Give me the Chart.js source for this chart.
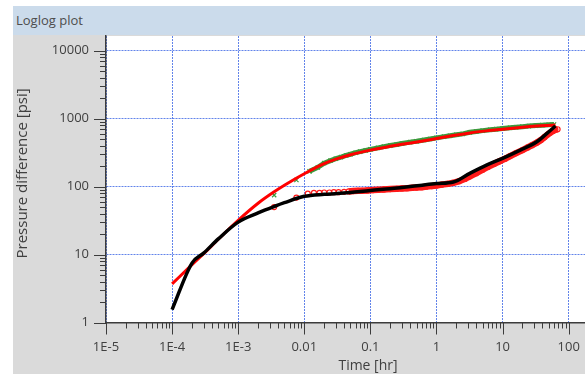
<!DOCTYPE html>
<html>
<head>
<meta charset="utf-8">
<script src="https://cdn.jsdelivr.net/npm/chart.js@4.4.0/dist/chart.umd.min.js"></script>
<style>
html, body { margin: 0; padding: 0; background: #fff; overflow: hidden; width: 585px; height: 374px; }
#bar { position: absolute; left: 13px; top: 6px; width: 617px; height: 29px; background: #cbdbeb; color: #4d4d4d;
       font: 13px 'Open Sans', sans-serif; line-height: 28px; padding-left: 3px; box-sizing: border-box; white-space: nowrap; }
#panel { position: absolute; left: 13px; top: 35px; width: 617px; height: 339px; background: #dadada; }
</style>
</head>
<body>
<div id="bar">Loglog plot</div>
<div id="panel"><canvas id="plot" width="617" height="339"></canvas></div>
<script>
// model curves
const modelTime = [1e-4, 2e-4, 3e-4, 5e-4, 1e-3, 2e-3, 3.5e-3, 5e-3, 0.01, 0.02, 0.0316, 0.05, 0.1, 0.2, 0.3, 0.56, 1, 1.8, 3.2, 5.7, 10, 18.5, 33, 47, 63];
const modelPressure = [3.7, 7.1, 10.3, 16.8, 32, 57, 84, 105, 155, 218, 258, 295, 345, 392, 420, 462, 510, 566, 618, 662, 700, 742, 778, 795, 807];
const modelDerivative = [1.55, 7.5, 10.5, 17, 30, 41, 51, 58, 72, 77, 79, 82, 88, 93, 97, 104, 111, 117, 157, 207, 261, 345, 458, 609, 780];

// measured pressure difference
const dataTime = [0.0035, 0.0076, 0.012, 0.016, 0.02, 0.025, 0.03, 0.036, 0.043, 0.05, 0.06, 0.07, 0.085, 0.1, 0.13, 0.16, 0.2, 0.25, 0.3, 0.4, 0.5, 0.65, 0.8, 1, 1.3, 1.6, 2, 2.5, 3.2, 4, 5, 6.5, 8, 10, 13, 16, 20, 25, 32, 40, 50, 60];
const dataPressure = [75, 125, 168, 192, 222, 242, 258, 272, 288, 300, 316, 328, 342, 354, 372, 388, 402, 418, 432, 452, 466, 486, 502, 522, 545, 562, 580, 598, 630, 648, 668, 688, 702, 716, 736, 750, 764, 778, 792, 804, 815, 822];

// measured derivative
const derivTime = [0.0035, 0.0076, 0.0113, 0.014, 0.017, 0.02, 0.024, 0.028, 0.033, 0.04, 0.047, 0.055, 0.065, 0.075, 0.09, 0.11, 0.13, 0.16, 0.2, 0.25, 0.3, 0.36, 0.43, 0.5, 0.6, 0.7, 0.85, 1, 1.2, 1.5, 1.8, 2.2, 2.7, 3.2, 4, 5, 6, 7.5, 9, 11, 13, 16, 20, 24, 28, 33, 38, 43, 48, 53, 58, 63, 68];
const derivValue = [50, 69, 79, 81, 81, 82, 82, 83, 83, 84, 85, 86, 87, 87, 88, 89, 90, 91, 92, 93, 94, 95, 96, 97, 98, 100, 102, 104, 107, 110, 114, 120, 130, 142, 158, 178, 195, 217, 236, 258, 282, 312, 345, 378, 408, 445, 485, 535, 585, 625, 660, 690, 700];

const xTickValues = [1e-5, 1e-4, 1e-3, 0.01, 0.1, 1, 10, 100];
const xTickLabels = ['1E-5', '1E-4', '1E-3', '0.01', '0.1', '1', '10', '100'];
const yTickValues = [1, 10, 100, 1000, 10000];
const yTickLabels = ['1', '10', '100', '1000', '10000'];

const gridBlue = 'rgba(70,110,230,0.85)';
const axisColor = '#3c3c3c';
const textColor = '#404040';
const fontFamily = "'Open Sans', sans-serif";

const toPoints = (xs, ys) => xs.map((x, i) => ({x: x, y: ys[i]}));

function labelFor(values, labels, v) {
    const i = values.findIndex(t => Math.abs(Math.log10(t) - Math.log10(v)) < 1e-6);
    return i < 0 ? '' : labels[i];
}
function isDecade(v) {
    const l = Math.log10(v);
    return Math.abs(l - Math.round(l)) < 1e-6;
}
function isSubTick(v) {
    const e = Math.floor(Math.log10(v) + 1e-9);
    const m = v / Math.pow(10, e);
    return Math.abs(m - Math.round(m)) < 1e-6;
}

const plotBackground = {
    id: 'plotBackground',
    beforeDraw(chart) {
        const {ctx, chartArea: a} = chart;
        ctx.save();
        ctx.fillStyle = '#fff';
        ctx.fillRect(a.left, a.top, a.right - a.left, a.bottom - a.top);
        ctx.restore();
    }
};

// short minor ticks, long decade ticks, outside the axes
const tickMarks = {
    id: 'tickMarks',
    afterDraw(chart) {
        const {ctx} = chart;
        const xs = chart.scales.x, ys = chart.scales.y;
        ctx.save();
        ctx.strokeStyle = axisColor;
        ctx.lineWidth = 1;
        xs.ticks.forEach(t => {
            if (!isSubTick(t.value)) return;
            const px = Math.round(xs.getPixelForValue(t.value)) + 0.5;
            const len = isDecade(t.value) ? 12 : 6;
            ctx.beginPath();
            ctx.moveTo(px, xs.top);
            ctx.lineTo(px, xs.top + len);
            ctx.stroke();
        });
        ys.ticks.forEach(t => {
            if (!isSubTick(t.value)) return;
            const py = Math.round(ys.getPixelForValue(t.value)) + 0.5;
            const len = isDecade(t.value) ? 12 : 6;
            ctx.beginPath();
            ctx.moveTo(ys.right, py);
            ctx.lineTo(ys.right - len, py);
            ctx.stroke();
        });
        ctx.restore();
    }
};

const hideBefore = (limit, color) => c => c.p0.parsed.x < limit ? 'transparent' : color;

new Chart(document.getElementById('plot'), {
    type: 'line',
    data: {
        datasets: [
            {
                label: 'Derivative model',
                data: toPoints(modelTime, modelDerivative),
                borderColor: '#000',
                borderWidth: 3.5,
                pointRadius: 0,
                cubicInterpolationMode: 'monotone',
                order: 0
            },
            {
                label: 'Pressure model',
                data: toPoints(modelTime, modelPressure),
                borderColor: '#ff0000',
                borderWidth: 3,
                pointRadius: 0,
                cubicInterpolationMode: 'monotone',
                order: 1
            },
            {
                label: 'Derivative',
                data: toPoints(derivTime, derivValue),
                borderColor: '#ff1a1a',
                borderWidth: 6.5,
                pointStyle: 'circle',
                pointRadius: 2.5,
                pointBorderWidth: 1.2,
                pointBorderColor: '#ff1a1a',
                pointBackgroundColor: 'rgba(255,255,255,0)',
                segment: {borderColor: hideBefore(0.045, '#ff1a1a')},
                order: 2
            },
            {
                label: 'Pressure',
                data: toPoints(dataTime, dataPressure),
                borderColor: '#3c9a3c',
                borderWidth: 5,
                pointStyle: 'crossRot',
                pointRadius: 3,
                pointBorderWidth: 1.2,
                pointBorderColor: '#3c9a3c',
                segment: {borderColor: hideBefore(0.012, '#3c9a3c')},
                order: 3
            }
        ]
    },
    options: {
        responsive: false,
        animation: false,
        events: [],
        layout: {autoPadding: false, padding: {top: 1, left: 0, right: 0, bottom: 0}},
        plugins: {legend: {display: false}, tooltip: {enabled: false}},
        scales: {
            x: {
                type: 'logarithmic',
                min: 1e-5,
                max: 847,
                border: {color: axisColor, width: 1.5, dash: [2, 1]},
                grid: {
                    drawTicks: false,
                    color: c => (c.tick && isDecade(c.tick.value)) ? gridBlue : 'rgba(0,0,0,0)'
                },
                ticks: {
                    autoSkip: false,
                    maxRotation: 0,
                    padding: 17,
                    color: textColor,
                    font: {family: fontFamily, size: 13},
                    callback: v => labelFor(xTickValues, xTickLabels, v)
                },
                title: {
                    display: true,
                    text: 'Time [hr]',
                    color: textColor,
                    font: {family: fontFamily, size: 14},
                    padding: {top: 0, bottom: 0}
                },
                afterFit: s => { s.height = 51.5; s.paddingLeft = 0; s.paddingRight = 0; }
            },
            y: {
                type: 'logarithmic',
                min: 1,
                max: 16500,
                border: {color: axisColor, width: 1.5, dash: [2, 1]},
                grid: {
                    drawTicks: false,
                    color: c => (c.tick && isDecade(c.tick.value)) ? gridBlue : 'rgba(0,0,0,0)'
                },
                ticks: {
                    autoSkip: false,
                    padding: 17,
                    color: textColor,
                    font: {family: fontFamily, size: 13},
                    callback: v => labelFor(yTickValues, yTickLabels, v)
                },
                title: {
                    display: true,
                    text: '   Pressure difference [psi]',
                    color: textColor,
                    font: {family: fontFamily, size: 15},
                    padding: {top: 1, bottom: 0}
                },
                afterFit: s => { s.width = 93; s.paddingTop = 0; s.paddingBottom = 0; }
            }
        }
    },
    plugins: [plotBackground, tickMarks]
});
</script>
</body>
</html>
